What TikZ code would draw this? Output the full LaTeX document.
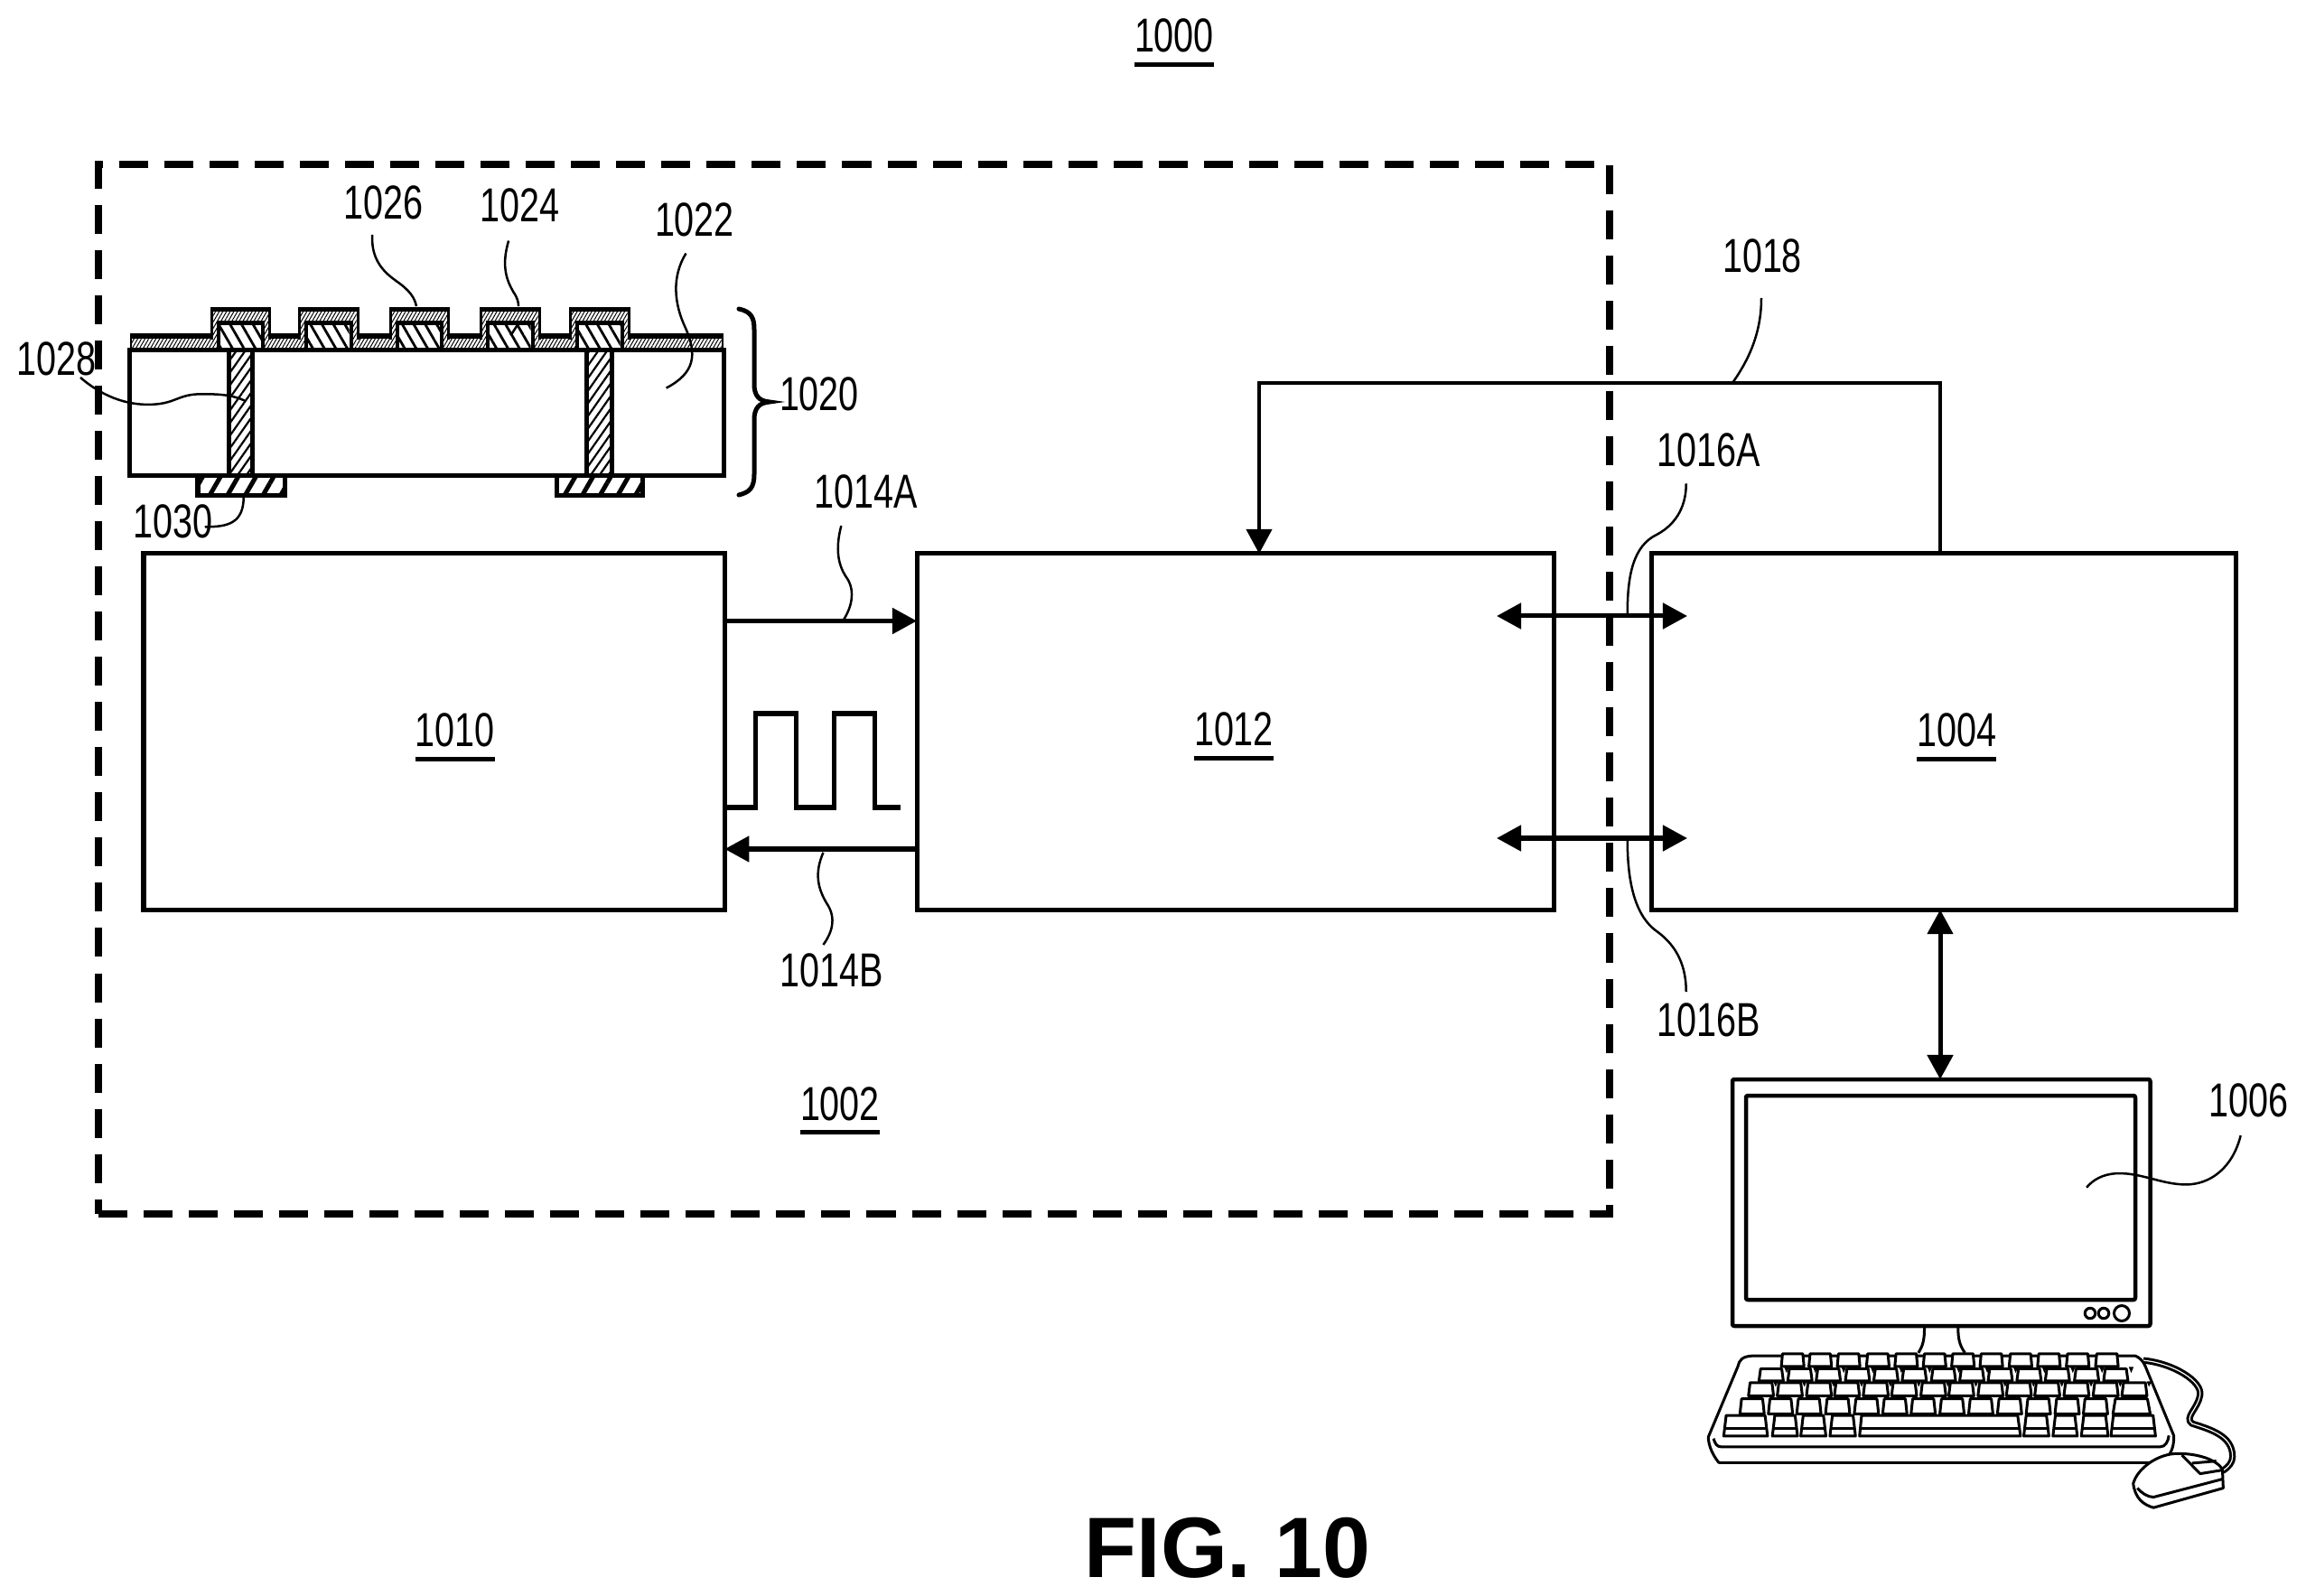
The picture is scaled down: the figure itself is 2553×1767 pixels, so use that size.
\documentclass[tikz,border=0pt]{standalone}
\usepackage{fontspec}
\setmainfont{Liberation Sans}[FakeStretch=0.75]
\newfontfamily\figfont{Liberation Sans}
\usetikzlibrary{arrows.meta,patterns.meta}
\newcommand{\ulnum}[1]{\vtop{\hbox{#1}\kern 3pt\hrule height 1.3pt}}
\tikzset{
  box/.style={draw,line width=0.05cm,minimum width=#1,anchor=north west,inner sep=0,outer sep=0,fill=white},
  lab/.style={anchor=base,inner sep=0,outer sep=0,font=\fontsize{15}{18}\selectfont},
  figlab/.style={anchor=center,inner sep=0,outer sep=0,font=\figfont\bfseries\fontsize{27}{30}\selectfont},
  frame/.style={draw,line width=0.08cm,dash pattern=on 0.32cm off 0.18cm,minimum width=16.72cm,minimum height=11.61cm,anchor=north west,inner sep=0,outer sep=0},
  wire/.style={line width=0.05cm},
  thinwire/.style={line width=0.04cm},
  arr/.style={line width=0.05cm,-{Triangle[length=0.27cm,width=0.28cm]}},
  darr/.style={line width=0.05cm,{Triangle[length=0.27cm,width=0.28cm]}-{Triangle[length=0.27cm,width=0.28cm]}},
  lead/.style={line width=0.025cm},
  padh/.style={pattern={Lines[angle=-60,distance=0.11cm,line width=0.028cm]},pattern color=black},
  fineh/.style={pattern={Lines[angle=60,distance=0.035cm,line width=0.01cm]},pattern color=black},
  viah/.style={pattern={Lines[angle=55,distance=0.08cm,line width=0.022cm]},pattern color=black},
  lowh/.style={pattern={Lines[angle=60,distance=0.17cm,line width=0.05cm]},pattern color=black},
  kb/.style={line width=0.03cm,line join=round},
  keycap/.style={kb,fill=white},
  mon/.style={line width=0.045cm,line join=round,rounded corners=0.02cm},
}
\begin{document}
\begin{tikzpicture}[x=0.01cm,y=-0.01cm]
\useasboundingbox (0,0) rectangle (2553,1767);
% outer dashed frame
\node[frame] (frame) at (109,182) {};
% stacked structure 1020
\fill (143.5,369) rectangle (801,388);
\fill[white] (146,375) rectangle (798.5,386);
\fill[fineh] (146,375) rectangle (798.5,386);
\foreach \bx in {232.5,330,430.5,531,630}{
  \fill (\bx,340) rectangle (\bx+67.5,376);
  \fill[white] (\bx+3,345) rectangle (\bx+64.5,386);
  \fill[fineh] (\bx+3,345) rectangle (\bx+64.5,386);
  \fill (\bx+7,355) rectangle (\bx+60.5,388);
  \fill[white] (\bx+11,360) rectangle (\bx+56.5,385);
  \fill[padh] (\bx+11,360) rectangle (\bx+56.5,385);
}
\draw[wire] (143.5,388) rectangle (801,527);
\draw[wire,fill=white] (253,388) rectangle (279,527);
\fill[viah] (253,388) rectangle (279,527);
\draw[wire,fill=white] (649.5,388) rectangle (677.5,527);
\fill[viah] (649.5,388) rectangle (677.5,527);
\draw[wire,fill=white] (219,527) rectangle (315,549);
\fill[lowh] (219,527) rectangle (315,549);
\draw[wire,fill=white] (616,527) rectangle (711,549);
\fill[lowh] (616,527) rectangle (711,549);
\draw[wire,line cap=round] (818,342) .. controls (832,345) and (835,352) .. (835,365) -- (835,425) .. controls (835,438) and (840,444) .. (852,445) .. controls (840,446) and (835,452) .. (835,465) -- (835,525) .. controls (835,540) and (830,545) .. (818,548);
% boxes
\node[box=6.43cm,minimum height=3.94cm] (b1010) at (159,613) {};
\node[box=7.05cm,minimum height=3.94cm] (b1012) at (1015,613) {};
\node[box=6.47cm,minimum height=3.94cm] (b1004) at (1828,613) {};
% monitor
\draw[mon,fill=white] (1918,1195) rectangle (2380.5,1468);
\draw[mon] (1933,1213) rectangle (2364,1439);
\node[draw,circle,line width=0.03cm,minimum size=0.115cm,inner sep=0] (k1) at (2314,1454) {};
\node[draw,circle,line width=0.03cm,minimum size=0.115cm,inner sep=0] (k2) at (2329,1454) {};
\node[draw,circle,line width=0.03cm,minimum size=0.17cm,inner sep=0] (k3) at (2349,1454) {};
% connectors
\draw[arr] (b1010.east |- 0,687.5) -- (b1012.west |- 0,687.5);
\draw[arr] (b1012.west |- 0,940) -- (b1010.east |- 0,940);
\draw[wire,line join=miter] (b1010.east |- 0,894) -- (836.5,894) -- (836.5,790) -- (881,790) -- (881,894) -- (923,894) -- (923,790) -- (968,790) -- (968,894) -- (997,894);
\coordinate (e1a) at (1657,682);
\coordinate (e1b) at (1868,682);
\coordinate (e2a) at (1657,928);
\coordinate (e2b) at (1868,928);
\draw[darr] (e1a) -- (e1b);
\draw[darr] (e2a) -- (e2b);
\draw[thinwire,-{Triangle[length=0.27cm,width=0.28cm]}] (b1004.north -| 2148,0) -- (2148,424) -- (1394,424) -- (b1012.north -| 1394,0);
\coordinate (montop) at (2148,1195);
\draw[darr] (b1004.south -| 2148,0) -- (montop);
% labels
\node[lab] (n1000) at (1300,58) {\ulnum{1000}};
\node[lab] (n1026) at (425,243) {1026};
\node[lab] (n1024) at (576,246) {1024};
\node[lab] (n1022) at (769,262) {1022};
\node[lab] (n1028) at (62.5,416) {1028};
\node[lab] (n1030) at (192,596) {1030};
\node[lab] (n1020) at (907,455) {1020};
\node[lab] (n1018) at (1951,302) {1018};
\node[lab] (n1016a) at (1892,517) {1016A};
\node[lab] (n1016b) at (1892,1147) {1016B};
\node[lab] (n1014a) at (959,563) {1014A};
\node[lab] (n1014b) at (921,1092) {1014B};
\node[lab] (n1012) at (1366,826) {\ulnum{1012}};
\node[lab] (n1010) at (504,827) {\ulnum{1010}};
\node[lab] (n1004) at (2166,827) {\ulnum{1004}};
\node[lab] (n1002) at (930,1240) {\ulnum{1002}};
\node[lab] (n1006) at (2489,1236) {1006};
\node[figlab] (fig) at (1359,1714) {FIG. 10};
% leaders, structure area
\begin{scope}[x=0.00574cm,y=-0.003333cm,shift={(0,180)}]
\end{scope}
\begin{scope}[shift={(0,180)},x=0.00574cm,y=-0.003333cm]
\draw[lead] (718,240) .. controls (715,330) and (745,370) .. (765,395) .. controls (790,425) and (800,450) .. (803,478);
\draw[lead] (981,260) .. controls (965,350) and (980,400) .. (990,430) .. controls (998,450) and (1000,465) .. (1000,478);
\draw[lead] (998,540) -- (985,575);
\draw[lead] (1323,302) .. controls (1295,380) and (1300,470) .. (1322,550) .. controls (1345,640) and (1340,700) .. (1285,750);
\draw[lead] (155,715) .. controls (185,760) and (230,805) .. (285,805) .. controls (340,805) and (340,770) .. (390,770) .. controls (430,770) and (450,775) .. (472,792);
\draw[lead] (395,1212) .. controls (440,1212) and (470,1200) .. (470,1110);
\end{scope}
\begin{scope}[shift={(760,500)},x=0.00765cm,y=-0.004167cm]
\draw[lead] (224,197) .. controls (215,260) and (220,300) .. (230,330) .. controls (245,365) and (240,410) .. (228,445);
\draw[lead] (198,1065) .. controls (185,1120) and (190,1160) .. (203,1200) .. controls (218,1240) and (210,1280) .. (198,1310);
\draw[lead] (1447,85) .. controls (1447,140) and (1435,190) .. (1405,220) .. controls (1370,250) and (1362,330) .. (1362,430);
\draw[lead] (1362,1030) .. controls (1362,1130) and (1370,1230) .. (1405,1275) .. controls (1435,1315) and (1447,1370) .. (1447,1435);
\end{scope}
\draw[lead] (1950,330) .. controls (1950,370) and (1935,400) .. (1918,424);
% computer lower part
\begin{scope}[shift={(1850,1170)},x=0.004484cm,y=-0.003333cm]
\draw[lead] (1405,262) .. controls (1385,370) and (1330,425) .. (1270,425) .. controls (1210,425) and (1160,385) .. (1100,388) .. controls (1065,390) and (1040,410) .. (1025,435);
\draw[kb] (625,900) .. controls (625,940) and (622,960) .. (610,985);
\draw[kb] (708,900) .. controls (708,940) and (712,960) .. (725,985);
% cable
\draw[line width=0.03cm,double=white,double distance=0.012cm] (1165,1010) .. controls (1240,1020) and (1310,1080) .. (1305,1125) .. controls (1300,1170) and (1265,1200) .. (1285,1220) .. controls (1330,1240) and (1385,1260) .. (1385,1330) .. controls (1385,1350) and (1375,1365) .. (1360,1378);
% keyboard body
\draw[kb,fill=white] (200,995) .. controls (175,997) and (168,1010) .. (165,1030) -- (92,1265) .. controls (92,1295) and (105,1330) .. (118,1350) -- (1210,1350) .. controls (1225,1335) and (1242,1310) .. (1240,1260) -- (1170,1030) .. controls (1165,1012) and (1155,1000) .. (1145,995) -- cycle;
\draw[kb] (105,1270) .. controls (108,1285) and (112,1298) .. (125,1298) -- (1205,1298) .. controls (1220,1298) and (1226,1280) .. (1228,1260);
% keys
\foreach \c in {300,368,438,510,580,650,720,790,862,932,1003,1075}{
  \draw[keycap] (\c-28,1030) -- (\c-25,988) -- (\c+25,988) -- (\c+28,1030) -- cycle;}
\foreach \c in {247,318,388,460,530,600,672,742,812,883,953,1025,1097}{
  \draw[keycap] (\c-30,1078) -- (\c-26,1038) -- (\c+26,1038) -- (\c+30,1078) -- cycle;
  \fill (\c+32,1032) -- (\c+44,1032) -- (\c+38,1052) -- cycle;}
\foreach \c in {222,293,365,434,505,575,647,716,788,858,928,1000,1072,1143}{
  \draw[keycap] (\c-31,1128) -- (\c-27,1084) -- (\c+27,1084) -- (\c+31,1128) -- cycle;
  \fill (\c+30,1080) -- (\c+42,1080) -- (\c+36,1098) -- cycle;}
\foreach \c in {200,270,340,411,482,552,622,693,764,835,906,977,1047}{
  \draw[keycap] (\c-30,1188) -- (\c-26,1138) -- (\c+26,1138) -- (\c+30,1188) -- cycle;}
\draw[keycap] (1090,1188) -- (1096,1138) -- (1175,1138) -- (1182,1188) -- cycle;
\foreach \l/\r in {130/238,250/312,320/382,392/455,870/932,942/1002,1012/1078,1085/1195}{
  \draw[keycap] (\l,1262) -- (\l+6,1193) -- (\r-6,1193) -- (\r,1262) -- cycle;
  \draw[kb] (\l+2,1237) -- (\r-2,1237);}
\draw[keycap] (465,1262) -- (470,1193) -- (855,1193) -- (862,1262) -- cycle;
\draw[kb] (467,1237) -- (860,1237);
% mouse
\draw[kb,fill=white] (1140,1420) .. controls (1150,1370) and (1200,1320) .. (1250,1320) .. controls (1300,1320) and (1345,1340) .. (1360,1372) -- (1362,1435) -- (1190,1500) .. controls (1165,1490) and (1145,1470) .. (1140,1420) -- cycle;
\draw[kb] (1150,1435) .. controls (1160,1450) and (1175,1465) .. (1190,1465) -- (1360,1405);
\draw[kb] (1260,1325) -- (1305,1387) -- (1360,1375);
\draw[kb] (1285,1352) -- (1345,1345);
\end{scope}
\end{tikzpicture}
\end{document}
